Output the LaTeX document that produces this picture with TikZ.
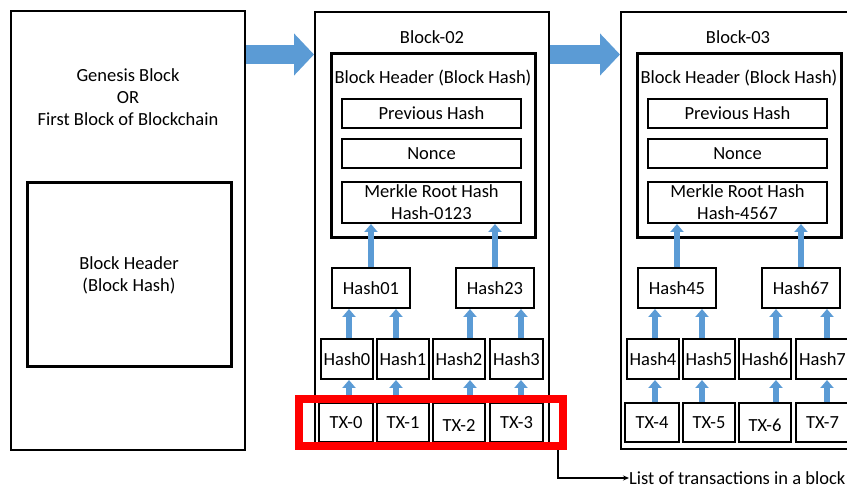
\documentclass[tikz,border=0pt]{standalone}
\usepackage{fontspec}
\setmainfont{Carlito}
\usetikzlibrary{arrows.meta}
\definecolor{flowblue}{RGB}{91,155,213}
\definecolor{marker}{RGB}{255,0,0}

\tikzset{
  every node/.style={font=\fontsize{18.5}{22}\selectfont},
  blockframe/.style={draw, line width=2pt, inner sep=0pt},
  headerframe/.style={draw, line width=3pt, inner sep=0pt, align=center},
  cell/.style={draw, line width=2pt, inner sep=0pt, align=center},
  caption/.style={inner sep=0pt, align=center},
  up/.style={flowblue, line width=6pt, -{Triangle[width=13pt,length=8pt]}},
  chain/.style={flowblue, line width=19pt, -{Triangle[width=41pt,length=20pt]}},
  lead/.style={line width=1.2pt, -{Stealth[length=6pt,width=5pt]}},
}

% One block of the chain: header with its Merkle tree of four transactions
% #1 title, #2 root hash, #3/#4 pair hashes, #5..#8 transaction indexes
\newcommand\merkleblock[8]{%
  \node[blockframe, minimum width=234pt, minimum height=437pt] (frame) at (432,230.5) {};
  \node[caption] (title) at (432,37) {#1};
  \node[headerframe, minimum width=204pt, minimum height=184pt] (header) at (433,146) {};
  \node[caption] (hlabel) at (433,78) {Block Header (Block Hash)};
  \node[cell, minimum width=179pt, minimum height=29pt] (prev) at (431.5,113.5) {Previous Hash};
  \node[cell, minimum width=179pt, minimum height=29pt] (nonce) at (431.5,153.5) {Nonce};
  \node[cell, minimum width=179pt, minimum height=41pt] (merkle) at (431.5,202.5) {Merkle Root Hash\\#2};
  \node[cell, minimum width=78pt, minimum height=40pt] (pa) at (371,288) {Hash#3};
  \node[cell, minimum width=78pt, minimum height=40pt] (pb) at (495,288) {Hash#4};
  \node[cell, minimum width=52pt, minimum height=40pt] (l0) at (347,359) {Hash#5};
  \node[cell, minimum width=52pt, minimum height=40pt] (l1) at (403,359) {Hash#6};
  \node[cell, minimum width=52pt, minimum height=40pt] (l2) at (459,359) {Hash#7};
  \node[cell, minimum width=53pt, minimum height=40pt] (l3) at (516.5,359) {Hash#8};
  \node[cell, minimum width=54pt, minimum height=39pt] (t0) at (346,422.5) {TX-#5};
  \node[cell, minimum width=52pt, minimum height=39pt] (t1) at (403,422.5) {TX-#6};
  \node[cell, minimum width=52pt, minimum height=39pt] (t2) at (459,422.5) {\raisebox{-3pt}[\height][\depth]{TX-#7}};
  \node[cell, minimum width=53pt, minimum height=39pt] (t3) at (516.5,422.5) {TX-#8};
  \foreach \s/\l/\p/\t in {-22/l0/pa/t0, 25/l1/pa/t1, -25/l2/pb/t2, 26/l3/pb/t3} {
    \draw[up] ([xshift=\s pt]\p.south |- \l.north) -- ([xshift=\s pt]\p.south);
    \draw[up] ([xshift=\s pt]\p.south |- \t.north) -- ([xshift=\s pt]\p.south |- \l.south);
  }
  \draw[up] (pa.north) -- (pa.north |- merkle.south);
  \draw[up] (pb.north) -- (pb.north |- merkle.south);
}

\begin{document}
\begin{tikzpicture}[x=1pt, y=-1pt]
  \useasboundingbox (0,0) rectangle (847,489);
  \clip (0,0) rectangle (847,489);

  % genesis block
  \node[blockframe, minimum width=234pt, minimum height=439pt] (genesis) at (128,230.5) {};
  \node[caption] (gtitle) at (128,97.5) {Genesis Block\\OR\\First Block of Blockchain};
  \node[headerframe, minimum width=204pt, minimum height=184pt] (gheader) at (129,275) {Block Header\\(Block Hash)};

  % following blocks
  \begin{scope}[name prefix=b2-]
    \merkleblock{Block-02}{Hash-0123}{01}{23}{0}{1}{2}{3}
  \end{scope}
  \begin{scope}[xshift=306pt, name prefix=b3-]
    \merkleblock{Block-03}{Hash-4567}{45}{67}{4}{5}{6}{7}
  \end{scope}

  % links between blocks
  \coordinate (row) at (0,54.5);
  \draw[chain] (genesis.east |- row) -- (b2-frame.west |- row);
  \draw[chain] (b2-frame.east |- row) -- (b3-frame.west |- row);

  % highlighted transaction list
  \node[draw=marker, line width=8pt, minimum width=264pt, minimum height=47pt, inner sep=0pt] (txlist) at (431,422.5) {};
  \node[caption, anchor=west] (note) at (629,478) {List of transactions in a block};
  \draw[lead] ([xshift=127pt]txlist.south) |- (note.west);
\end{tikzpicture}
\end{document}
